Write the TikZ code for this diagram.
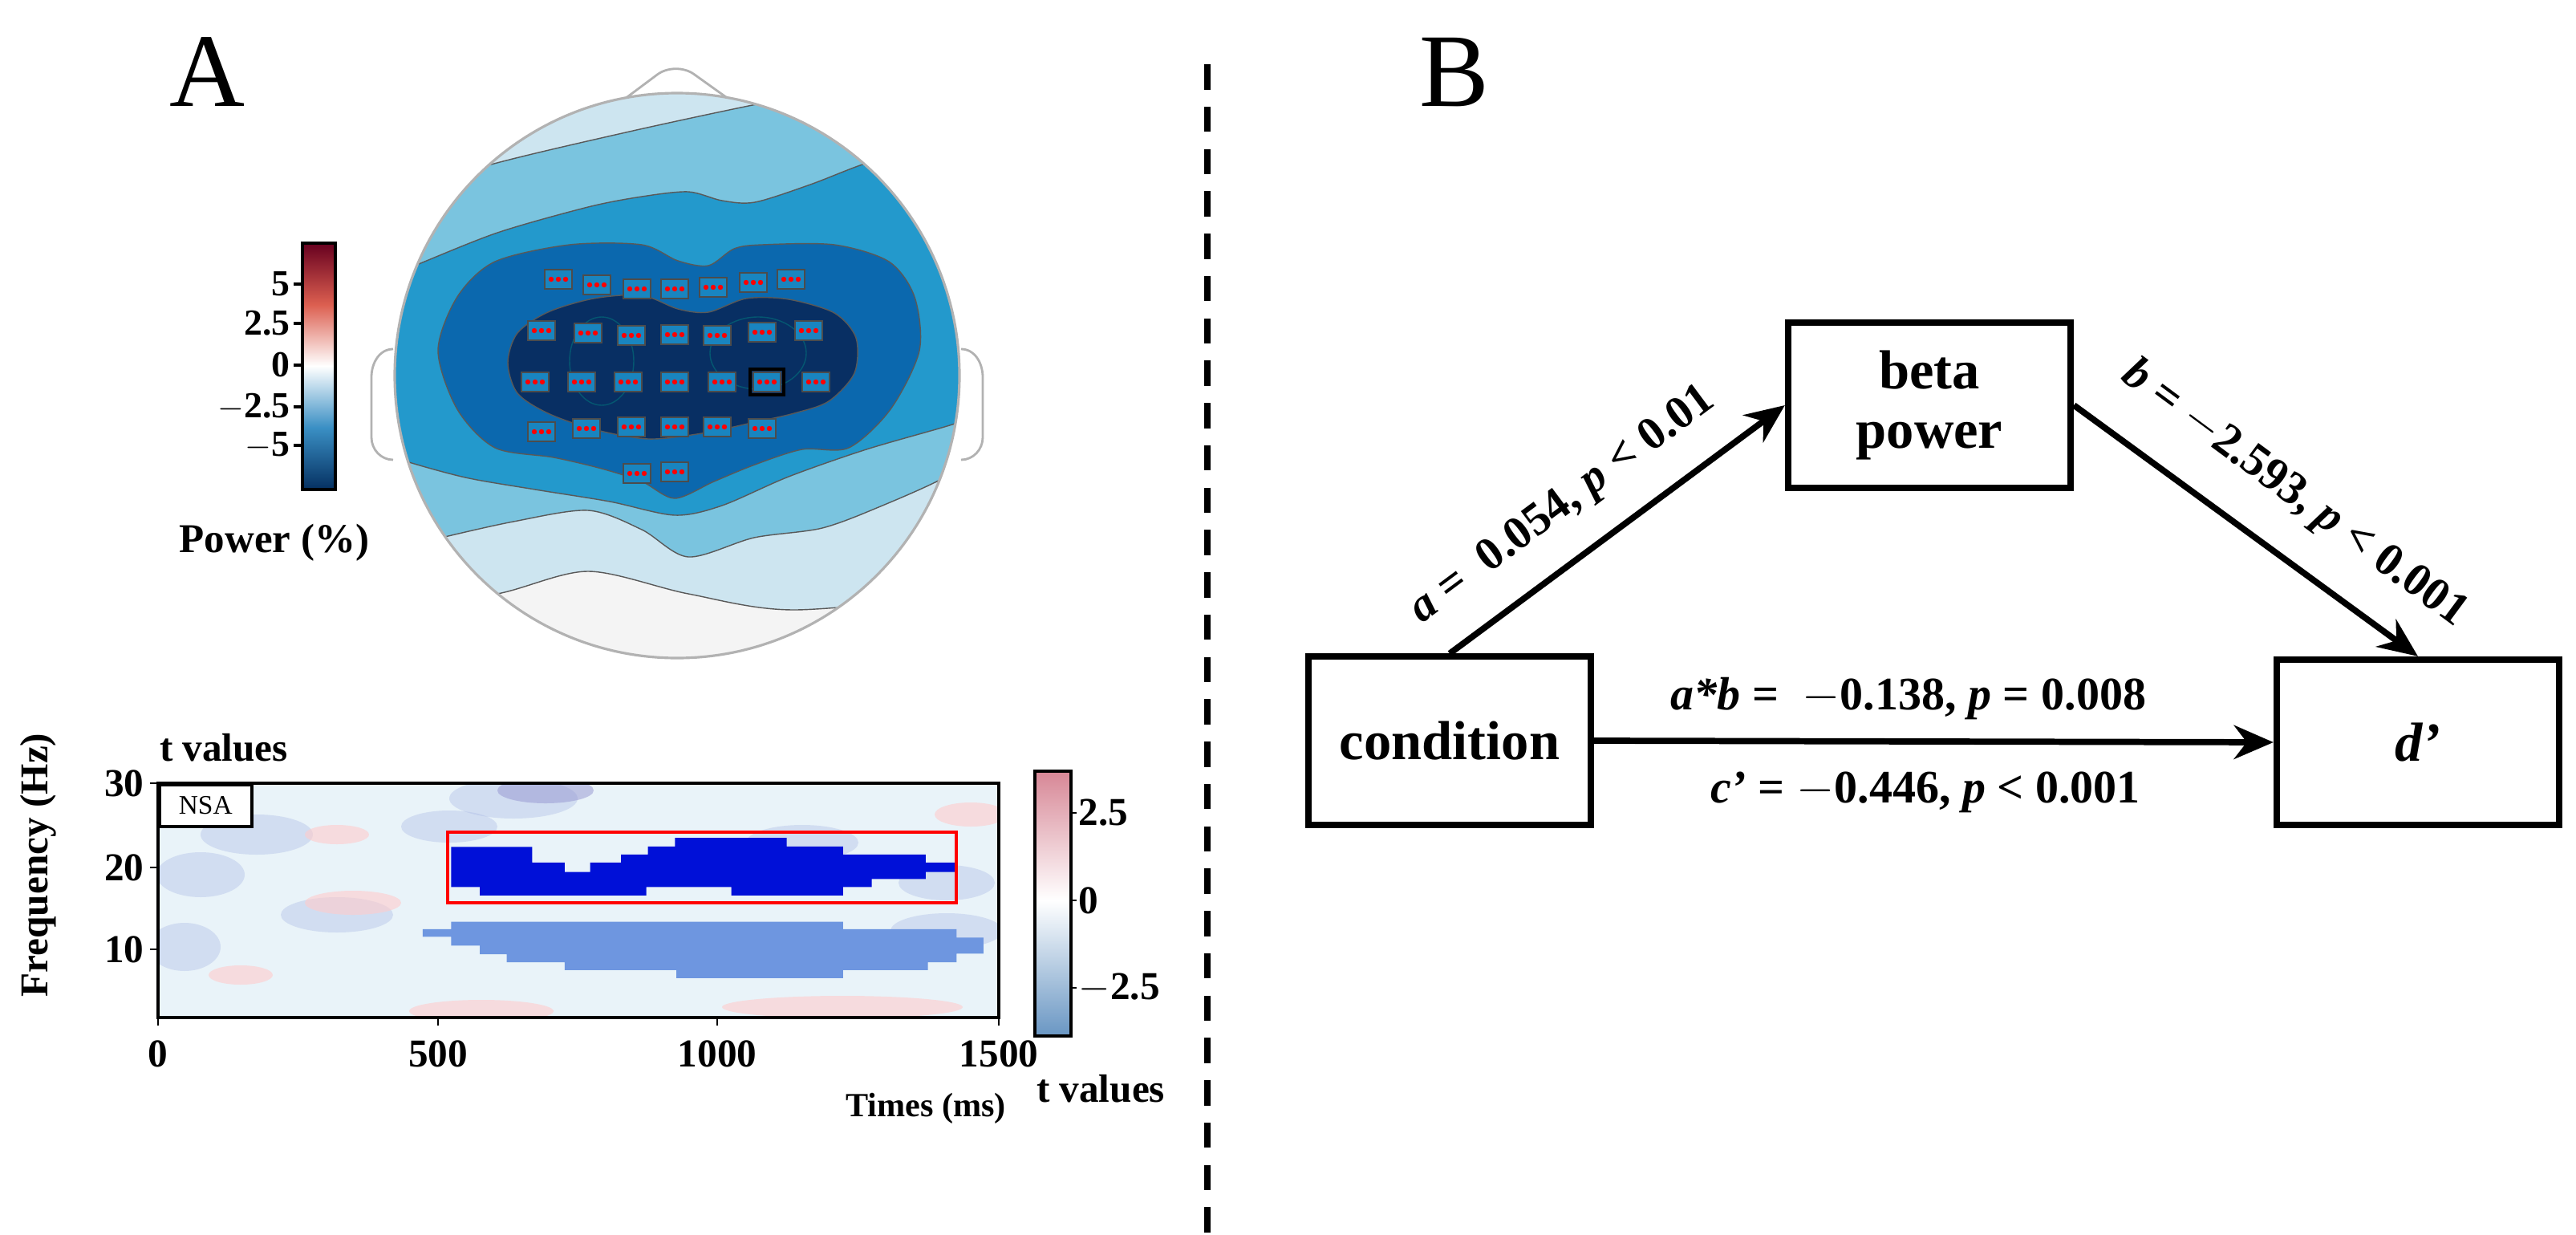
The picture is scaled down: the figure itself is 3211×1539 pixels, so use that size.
\documentclass[tikz,border=0pt]{standalone}
\usepackage{fontspec}
\setmainfont{Liberation Serif}
\usetikzlibrary{arrows.meta}
\definecolor{L0}{HTML}{F4F4F4}
\definecolor{Lc}{HTML}{CDE5F0}
\definecolor{L1}{HTML}{7AC4DF}
\definecolor{L2}{HTML}{2399CC}
\definecolor{L3}{HTML}{0B68AE}
\definecolor{L4}{HTML}{082F63}
\definecolor{sig}{HTML}{0010D8}
\definecolor{sig2}{HTML}{6E96E0}
\definecolor{bgb}{HTML}{E9F3F9}
\begin{document}
\begin{tikzpicture}[x=0.01cm,y=-0.01cm,
  every node/.style={inner sep=0pt},
  lab/.style={font=\fontsize{13}{15}\selectfont\bfseries},
  tk/.style={font=\fontsize{14}{16}\selectfont\bfseries},
  box/.style={draw,line width=2.3pt,minimum width=3.52cm,minimum height=2.07cm,font=\fontsize{19.5}{22}\selectfont\bfseries,align=center},
  arr/.style={line width=2.2pt,-{Stealth[length=14pt,width=12pt]}},
  elec/.style={draw=black!70,fill=L2!60!L3,minimum width=0.34cm,minimum height=0.24cm,line width=0.4pt},
  blab/.style={font=\fontsize{16.5}{19}\selectfont\bfseries},
  contour/.style={draw=gray!70!black,line width=0.4pt}]
\useasboundingbox (0,0) rectangle (3211,1539);
% ---------- Panel A ----------
\node[font=\fontsize{37}{40}\selectfont] (A) at (258,90) {A};
% nose and ears
\draw[gray!60,line width=0.8pt,rounded corners=8pt] (775,126) -- (842,76) -- (912,126);
\draw[gray!60,line width=0.8pt] (490,435) to[out=180,in=90] (463,470) -- (463,545) to[out=-90,in=180] (490,573);
\draw[gray!60,line width=0.8pt] (1198,435) to[out=0,in=90] (1225,470) -- (1225,545) to[out=-90,in=0] (1198,573);
\begin{scope}
\clip (844,468) circle[radius=352];
\fill[Lc] (844,468) circle[radius=352];
\draw[contour,fill=L0] plot[smooth] coordinates {(480,760) (620,740) (733,712) (858,740) (990,760) (1220,740)} -- (1220,900) -- (480,900) -- cycle;
\draw[contour,fill=L1] plot[smooth] coordinates {(470,250) (612,205) (780,165) (933,132) (1050,110)} -- (1220,110) -- (1220,580) -- plot[smooth] coordinates {(1220,560) (1179,594) (1100,630) (1025,658) (940,670) (858,694) (800,660) (733,636) (640,650) (546,671) (470,690)} -- cycle;
\draw[contour,fill=L2] plot[smooth] coordinates {(470,350) (517,331) (620,290) (733,258) (800,245) (858,239) (900,250) (941,252) (1010,230) (1075,205) (1130,190)} -- (1220,190) -- (1220,520) -- plot[smooth] coordinates {(1220,515) (1187,529) (1080,560) (983,594) (900,630) (841,642) (760,625) (667,610) (580,595) (500,573) (470,560)} -- cycle;
\draw[contour,fill=L3] plot[smooth cycle] coordinates {(546,437) (570,370) (617,326) (710,305) (800,305) (845,325) (883,331) (915,310) (950,305) (1040,305) (1108,326) (1140,370) (1146,437) (1110,510) (1058,558) (1000,560) (941,579) (890,600) (841,621) (800,600) (750,584) (690,570) (617,558) (570,510)};
\draw[contour,fill=L4] plot[smooth cycle] coordinates {(633,452) (645,415) (683,389) (740,372) (800,368) (845,385) (883,389) (930,372) (983,373) (1040,390) (1067,421) (1065,465) (1033,500) (990,515) (941,526) (875,540) (808,547) (740,535) (683,515) (645,490)};
\draw[teal!50!L4,line width=0.4pt] (750,450) ellipse[x radius=40,y radius=55];
\draw[teal!50!L4,line width=0.4pt] (945,440) ellipse[x radius=60,y radius=45];
% electrodes
\foreach \n/\x/\y in {1/696/348,2/744/355,3/794/360,4/841/360,5/889/358,6/939/352,7/986/348,
  8/675/412,9/733/415,10/787/418,11/841/417,12/894/418,13/950/414,14/1008/412,
  15/667/476,16/725/476,17/783/476,18/841/476,19/900/476,20/956/476,21/1017/476,
  22/675/538,23/731/534,24/787/532,25/841/532,26/894/532,27/950/534,
  28/794/590,29/841/588} {
  \node[elec] (e\n) at (\x,\y) {};
  \foreach \d in {-9,0,9} \fill[red] (\x+\d,\y) circle[radius=3.2];
}
\draw[line width=1.4pt] (956,476) +(-21,-16) rectangle +(21,16);
\end{scope}
\draw[gray!60,line width=0.9pt] (844,468) circle[radius=352];
% power colorbar
\shade[top color={rgb,255:red,103;green,0;blue,31},bottom color=white,middle color={rgb,255:red,220;green,95;blue,80}] (377,303) rectangle (418,456);
\shade[top color=white,bottom color={rgb,255:red,5;green,48;blue,97},middle color={rgb,255:red,58;green,143;blue,196}] (377,456) rectangle (418,610);
\draw[line width=1pt] (377,303) rectangle (418,610);
\foreach \v/\y in {5/354,2.5/403,0/455,{$-$2.5}/507,{$-$5}/555} {
  \draw[line width=1pt] (377,\y) -- (366,\y);
  \node[lab,anchor=east] at (362,\y) {\v};
}
\node[font=\fontsize{14.5}{16}\selectfont\bfseries] (pw) at (342,676) {Power (\%)};
% spectrogram
\fill[bgb] (197,976) rectangle (1245,1268);
\begin{scope}
\clip (197,976) rectangle (1245,1268);
\foreach \x/\y/\a/\b in {320/1040/70/25,250/1090/55/28,230/1180/45/30,420/1140/70/22,640/995/80/25,1000/1050/70/22,1180/1160/70/22,900/1070/50/22,1180/1100/60/22,800/1180/60/20,560/1030/60/20}
  \fill[cyan!40!blue!35,opacity=0.35] (\x,\y) ellipse[x radius=\a,y radius=\b];
\fill[blue!40!gray!60,opacity=0.5] (680,985) ellipse[x radius=60,y radius=16];
\foreach \x/\y/\a/\b in {420/1040/40/12,440/1125/60/15,1210/1015/45/15,600/1260/90/14,1050/1255/150/14,300/1215/40/12}
  \fill[red!20,opacity=0.6] (\x,\y) ellipse[x radius=\a,y radius=\b];
\end{scope}
\begin{scope}[shift={(0,860)},xscale=0.9615,yscale=0.436]
\fill[sig] (585,448)--(690,448)--(690,493)--(732,493)--(732,520)--(765,520)--(765,493)--(805,493)--(805,470)--(840,470)--(840,447)--(875,447)--(875,422)--(1020,422)--(1020,447)--(1093,447)--(1093,470)--(1200,470)--(1200,493)--(1240,493)--(1240,520)--(1200,520)--(1200,540)--(1130,540)--(1130,563)--(1093,563)--(1093,587)--(948,587)--(948,563)--(838,563)--(838,587)--(622,587)--(622,563)--(585,563)--cycle;
\fill[sig2] (548,683)--(585,683)--(585,662)--(1093,662)--(1093,683)--(1240,683)--(1240,707)--(1275,707)--(1275,753)--(1240,753)--(1240,778)--(1203,778)--(1203,800)--(1093,800)--(1093,823)--(877,823)--(877,800)--(732,800)--(732,778)--(657,778)--(657,755)--(622,755)--(622,730)--(585,730)--(585,705)--(548,705)--cycle;
\end{scope}
\draw[red,line width=1.3pt] (558,1037) rectangle (1192,1125);
\draw[line width=1.2pt] (197,976) rectangle (1245,1268);
\node[draw,line width=1pt,minimum width=1.15cm,minimum height=0.52cm,anchor=north west,fill=white,font=\fontsize{9.5}{10}\selectfont] (nsa) at (197,976) {NSA};
\foreach \v/\y in {30/976,20/1081,10/1183} {
  \draw[line width=0.8pt] (197,\y) -- (187,\y);
  \node[tk,anchor=east] at (180,\y) {\v};
}
\foreach \v/\x in {0/197,500/546,1000/894,1500/1245} {
  \draw[line width=0.8pt] (\x,1268) -- (\x,1278);
  \node[tk] at (\x,1313) {\v};
}
\node[font=\fontsize{12}{13}\selectfont\bfseries] (tms) at (1154,1381) {Times (ms)};
\node[tk] (tv1) at (279,932) {t values};
\node[rotate=90,font=\fontsize{14}{16}\selectfont\bfseries] (fq) at (48,1078) {Frequency (Hz)};
% t colorbar
\shade[top color={rgb,255:red,215;green,135;blue,150},bottom color=white] (1290,961) rectangle (1335,1122);
\shade[top color=white,bottom color={rgb,255:red,105;green,150;blue,195}] (1290,1122) rectangle (1335,1291);
\draw[line width=1.2pt] (1290,961) rectangle (1335,1291);
\foreach \v/\y in {2.5/1013,0/1122,{$-$2.5}/1231} {
  \draw[line width=0.8pt] (1335,\y) -- (1342,\y);
  \node[tk,anchor=west] at (1344,\y) {\v};
}
\node[tk] (tv2) at (1372,1357) {t values};
% divider
\draw[line width=2pt,dash pattern=on 9pt off 6pt] (1505,80) -- (1505,1539);
% ---------- Panel B ----------
\node[font=\fontsize{37}{40}\selectfont] (B) at (1813,90) {B};
\node[box,minimum height=2.05cm] (beta) at (2405,505) {beta\\[-1pt]power};
\node[box,minimum height=2.09cm] (cond) at (1807,923) {condition};
\node[box,minimum height=2.06cm] (dp) at (3014,925) {\itshape d’};
\draw[arr] (cond.north) -- (beta.west);
\draw[arr] (beta.east) -- (dp.north);
\draw[arr] (cond.east) -- (dp.west);
\node[blab,rotate=36.6] (la) at (1948,630) {\textit{a} =\ \ 0.054, \textit{p} < 0.01};
\node[blab,rotate=-36.5] (lb) at (2860,616) {\textit{b} = $-$2.593, \textit{p} < 0.001};
\node[blab] (lab1) at (2379,871) {\textit{a*b} =\ \ $-$0.138, \textit{p} = 0.008};
\node[blab] (lab2) at (2400,987) {\textit{c’} = $-$0.446, \textit{p} < 0.001};
\end{tikzpicture}
\end{document}
